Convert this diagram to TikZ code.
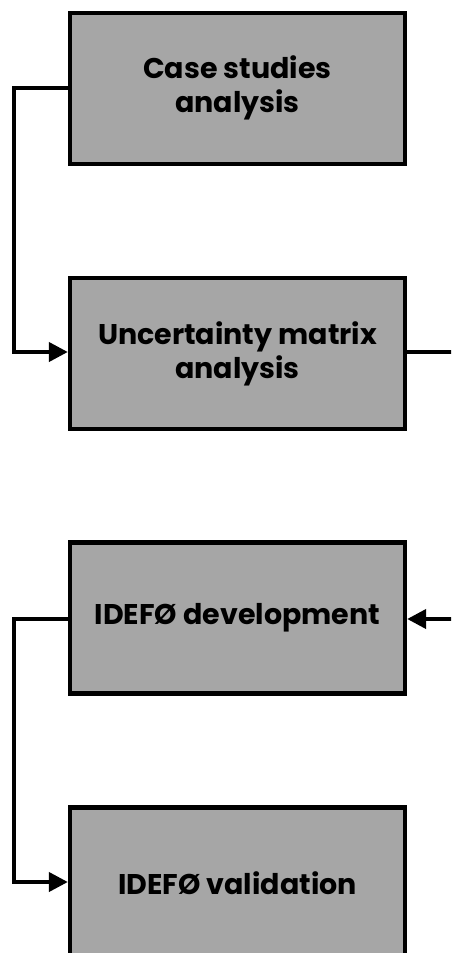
\documentclass[tikz,border=0pt]{standalone}
\usepackage{fontspec}
\setmainfont{Poppins}
\usetikzlibrary{arrows.meta}
\begin{document}
\begin{tikzpicture}[x=1pt,y=-1pt,
  stagebox/.style={draw=black, line width=4.3pt, fill=boxgray,
    minimum width=335pt, minimum height=151pt, inner sep=0pt,
    align=center, font=\fontsize{28.5}{34}\selectfont\bfseries},
  flow/.style={line width=4pt, -{Triangle[length=19pt,width=19pt]}},
  link/.style={line width=4pt}]
  \definecolor{boxgray}{HTML}{A6A6A6}
  \useasboundingbox (0,0) rectangle (451,953);
  \begin{scope}
    \clip (0,0) rectangle (451,953);
    % process stages
    \node[stagebox] (cs)  at (237.5,88.3)  {Case studies\\analysis};
    \node[stagebox] (um)  at (237.5,353.5) {Uncertainty matrix\\analysis};
    \node[stagebox] (dev) at (237.5,618)   {IDEFØ development};
    \node[stagebox] (val) at (237.5,883)   {IDEFØ validation};
    % free ends at the right margin
    \coordinate (outR) at (455,352);
    \coordinate (inR)  at (455,619);
    % connectors
    \draw[flow] (cs.west |- 0,88.3) -| (14,200) |- (um.west |- 0,352);
    \draw[link] (um.east |- 0,352) -- (outR);
    \draw[flow] (inR) -- (dev.east |- 0,619);
    \draw[flow] (dev.west |- 0,619) -| (14,750) |- (val.west |- 0,882);
  \end{scope}
\end{tikzpicture}
\end{document}
